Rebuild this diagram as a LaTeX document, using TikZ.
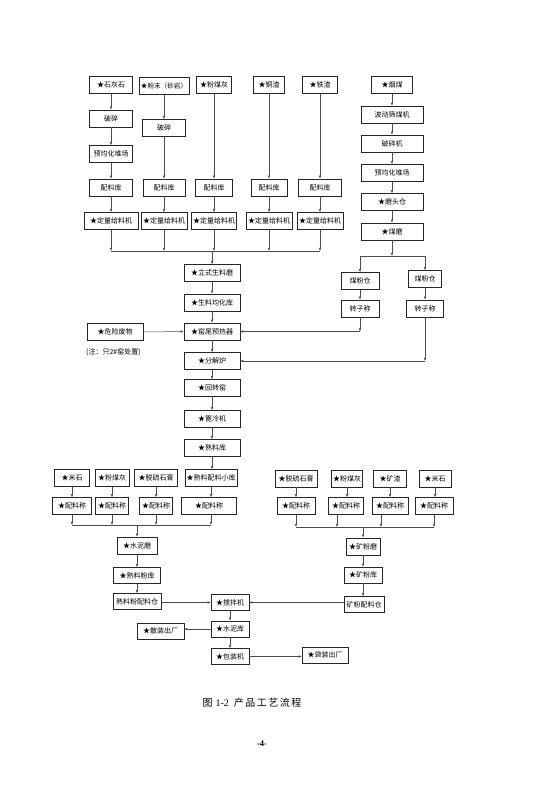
\documentclass[tikz,border=0pt]{standalone}
\usepackage{fontspec}
\setmainfont{Noto Sans CJK SC}
\newfontfamily\lserif{Liberation Serif}
\usetikzlibrary{arrows.meta}
\begin{document}
\begin{tikzpicture}[x=1pt,y=-1pt,
 bx/.style={draw=black!85, line width=0.55pt, inner sep=0pt, minimum height=17pt, font=\fontsize{7}{8}\selectfont},
 bxs/.style={bx, minimum height=16pt},
 arr/.style={draw=black!70, line width=0.5pt, -{Latex[length=3.2pt,width=2.6pt]}},
 ln/.style={draw=black!70, line width=0.5pt}]
\useasboundingbox[fill=white] (0,0) rectangle (537,807);

% ---- top raw materials ----
\node[bx, minimum width=43pt] (a1) at (111,85) {★石灰石};
\node[bx, minimum width=50pt, font=\fontsize{6.6}{8}\selectfont] (a2) at (164,86) {★粉末（砂岩）};
\node[bx, minimum width=35pt] (a3) at (214,85) {★粉煤灰};
\node[bx, minimum width=31pt] (a4) at (269,85) {★铜渣};
\node[bx, minimum width=35pt] (a5) at (320,85) {★铁渣};

\node[bx, minimum width=43pt] (b1) at (111,118.5) {破碎};
\node[bx, minimum width=43pt] (b2) at (164,128) {破碎};
\node[bx, minimum width=43pt] (c1) at (111,154) {预均化堆场};

\node[bx, minimum width=43pt] (d1) at (111,187.5) {配料库};
\node[bx, minimum width=42pt] (d2) at (164,187.5) {配料库};
\node[bx, minimum width=37pt] (d3) at (214,187.5) {配料库};
\node[bx, minimum width=36pt] (d4) at (269,187.5) {配料库};
\node[bx, minimum width=43pt] (d5) at (320,187.5) {配料库};

\node[bx, minimum width=54pt] (e1) at (111,221) {★定量给料机};
\node[bx, minimum width=46pt] (e2) at (164,221) {★定量给料机};
\node[bx, minimum width=45pt] (e3) at (214,221) {★定量给料机};
\node[bx, minimum width=46pt] (e4) at (269,221) {★定量给料机};
\node[bx, minimum width=46pt] (e5) at (320,221) {★定量给料机};

\draw[arr] (a1.south) -- (b1.north);
\draw[arr] (b1.south) -- (c1.north);
\draw[arr] (c1.south) -- (d1.north);
\draw[arr] (a2.south) -- (b2.north);
\draw[arr] (b2.south) -- (d2.north);
\draw[arr] (a3.south) -- (d3.north);
\draw[arr] (a4.south) -- (d4.north);
\draw[arr] (a5.south) -- (d5.north);
\foreach \i in {1,...,5} {\draw[arr] (d\i.south) -- (e\i.north);}

\coordinate (m) at (0,251);
\foreach \i in {1,...,5} {\draw[arr] (e\i.south) -- (e\i.south |- m);}
\draw[ln] (e1.south |- m) -- (e5.south |- m);

% ---- centre kiln line ----
\node[bx, minimum width=56pt] (f1) at (212,273) {★立式生料磨};
\node[bx, minimum width=56pt] (f2) at (212,302.5) {★生料均化库};
\node[bx, minimum width=56pt] (f3) at (212,331.5) {★窑尾预热器};
\node[bx, minimum width=56pt] (f4) at (212,361) {★分解炉};
\node[bx, minimum width=56pt] (f5) at (212,388) {★回转窑};
\node[bx, minimum width=56pt] (f6) at (212,419) {★篦冷机};
\node[bx, minimum width=56pt] (f7) at (212,448) {★熟料库};
\draw[arr] (f1.north |- m) -- (f1.north);
\draw[arr] (f1.south) -- (f2.north);
\draw[arr] (f2.south) -- (f3.north);
\draw[arr] (f3.south) -- (f4.north);
\draw[arr] (f4.south) -- (f5.north);
\draw[arr] (f5.south) -- (f6.north);
\draw[arr] (f6.south) -- (f7.north);

\node[bx, minimum width=56pt] (hw) at (115,332) {★危险废物};
\node[anchor=west, font=\fontsize{7}{8}\selectfont, inner sep=0pt] (nt) at (86,352) {(注：只2\#窑处置)};
\draw[arr] (hw.east) -- (f3.west);

% ---- coal line ----
\node[bx, minimum width=41pt] (r1) at (392,85) {★烟煤};
\node[bx, minimum width=62pt] (r2) at (392,114.5) {波动筛煤机};
\node[bx, minimum width=62pt] (r3) at (392,143.5) {破碎机};
\node[bx, minimum width=62pt] (r4) at (392,173) {预均化堆场};
\node[bx, minimum width=62pt] (r5) at (392,202) {★磨头仓};
\node[bx, minimum width=62pt] (r6) at (392,231.5) {★煤磨};
\draw[arr] (r1.south) -- (r2.north);
\draw[arr] (r2.south) -- (r3.north);
\draw[arr] (r3.south) -- (r4.north);
\draw[arr] (r4.south) -- (r5.north);
\draw[arr] (r5.south) -- (r6.north);

\node[bx, minimum width=38pt] (s1) at (360,281) {煤粉仓};
\node[bx, minimum width=33pt] (s2) at (425,279) {煤粉仓};
\node[bx, minimum width=38pt] (t1) at (360,308.5) {转子称};
\node[bx, minimum width=37pt] (t2) at (425,308.5) {转子称};
\coordinate (sp) at (392,256);
\draw[arr] (r6.south) -- (sp);
\draw[ln] (s1.north |- sp) -- (s2.north |- sp);
\draw[arr] (s1.north |- sp) -- (s1.north);
\draw[arr] (s2.north |- sp) -- (s2.north);
\draw[arr] (s1.south) -- (t1.north);
\draw[arr] (s2.south) -- (t2.north);
\coordinate (j1) at (360,331.5);
\coordinate (j2) at (425,361);
\draw[arr] (t1.south) -- (j1);
\draw[arr] (j1) -- (f3.east);
\draw[arr] (t2.south) -- (j2);
\draw[arr] (j2) -- (f4.east);

% ---- cement grinding (left) ----
\node[bx, minimum width=35pt] (g1) at (72,478) {★米石};
\node[bx, minimum width=34pt] (g2) at (112,478) {★粉煤灰};
\node[bx, minimum width=43pt] (g3) at (156,478) {★脱硫石膏};
\node[bx, minimum width=52pt] (g4) at (211,478) {★熟料配料小库};
\node[bx, minimum width=39pt] (h1) at (72,506) {★配料称};
\node[bx, minimum width=33pt] (h2) at (112,506) {★配料称};
\node[bx, minimum width=33pt] (h3) at (156,506) {★配料称};
\node[bx, minimum width=55pt] (h4) at (209,506) {★配料称};
\draw[arr] (f7.south) -- (f7.south |- g4.north);
\foreach \i in {1,2,3} {\draw[arr] (g\i.south) -- (h\i.north);}
\draw[arr] (g4.south) -- (g4.south |- h4.north);
\coordinate (ml) at (0,525);
\foreach \i in {1,2,3} {\draw[arr] (h\i.south) -- (h\i.south |- ml);}
\draw[arr] (g4.south |- h4.south) -- (g4.south |- ml);
\draw[ln] (h1.south |- ml) -- (g4.south |- ml);

\node[bx, minimum width=40pt] (k1) at (137,545.5) {★水泥磨};
\node[bxs, minimum width=47pt] (k2) at (137,575.5) {★熟料粉库};
\node[bxs, minimum width=48pt] (k3) at (137,601.5) {熟料粉配料仓};
\draw[arr] (k1.north |- ml) -- (k1.north);
\draw[arr] (k1.south) -- (k2.north);
\draw[arr] (k2.south) -- (k3.north);

% ---- slag grinding (right) ----
\node[bx, minimum width=42pt] (p1) at (296,478.5) {★脱硫石膏};
\node[bx, minimum width=31pt] (p2) at (347,478.5) {★粉煤灰};
\node[bx, minimum width=33pt] (p3) at (390,478.5) {★矿渣};
\node[bx, minimum width=32pt] (p4) at (435,478.5) {★米石};
\node[bx, minimum width=38pt] (q1) at (296,506) {★配料称};
\node[bx, minimum width=35pt] (q2) at (346,506) {★配料称};
\node[bx, minimum width=36pt] (q3) at (390,506) {★配料称};
\node[bx, minimum width=38pt] (q4) at (434,506) {★配料称};
\foreach \i in {1,...,4} {\draw[arr] (p\i.south) -- (p\i.south |- q\i.north);}
\coordinate (mr) at (0,527);
\draw[arr] (q1.south) -- (q1.south |- mr);
\draw[arr] ([xshift=-9pt]q2.south) -- ([xshift=-9pt]q2.south |- mr);
\draw[arr] ([xshift=-9pt]q3.south) -- ([xshift=-9pt]q3.south |- mr);
\draw[arr] (q4.south) -- (q4.south |- mr);
\draw[ln] (q1.south |- mr) -- (q4.south |- mr);

\node[bx, minimum width=34pt] (m1) at (363,546.5) {★矿粉磨};
\node[bxs, minimum width=38pt] (m2) at (363,575) {★矿粉库};
\node[bxs, minimum width=40pt] (m3) at (364,604.5) {矿粉配料仓};
\draw[arr] (m1.north |- mr) -- (m1.north);
\draw[arr] (m1.south) -- (m2.north);
\draw[arr] (m2.south) -- (m2.south |- m3.north);

% ---- mixing & dispatch ----
\node[bxs, minimum width=38pt] (z1) at (230,602.5) {★搅拌机};
\node[bxs, minimum width=38pt] (z2) at (230,629) {★水泥库};
\node[bxs, minimum width=38pt] (z3) at (230,656.5) {★包装机};
\node[bxs, minimum width=47pt] (z4) at (160.5,631) {★散装出厂};
\node[bxs, minimum width=46pt] (z5) at (325,655) {★袋装出厂};
\draw[arr] (k3.east |- z1) -- (z1.west);
\draw[arr] (m3.west |- z1) -- (z1.east);
\draw[arr] (z1.south) -- (z2.north);
\draw[arr] (z2.south) -- (z3.north);
\draw[arr] (z2.west) -- (z4.east |- z2);
\draw[arr] (z3.east) -- (z5.west |- z3);

% ---- caption ----
\node[inner sep=0pt] (cap) at (252,703) {\fontsize{10}{12}\selectfont 图\hspace{3pt}{\lserif 1-2}\hspace{5pt}产\hspace{1.5pt}品\hspace{1.5pt}工\hspace{1.5pt}艺\hspace{1.5pt}流\hspace{1.5pt}程};
\node[inner sep=0pt] (pg) at (262,744) {\lserif\bfseries\fontsize{8.5}{10}\selectfont -4-};
\end{tikzpicture}
\end{document}
